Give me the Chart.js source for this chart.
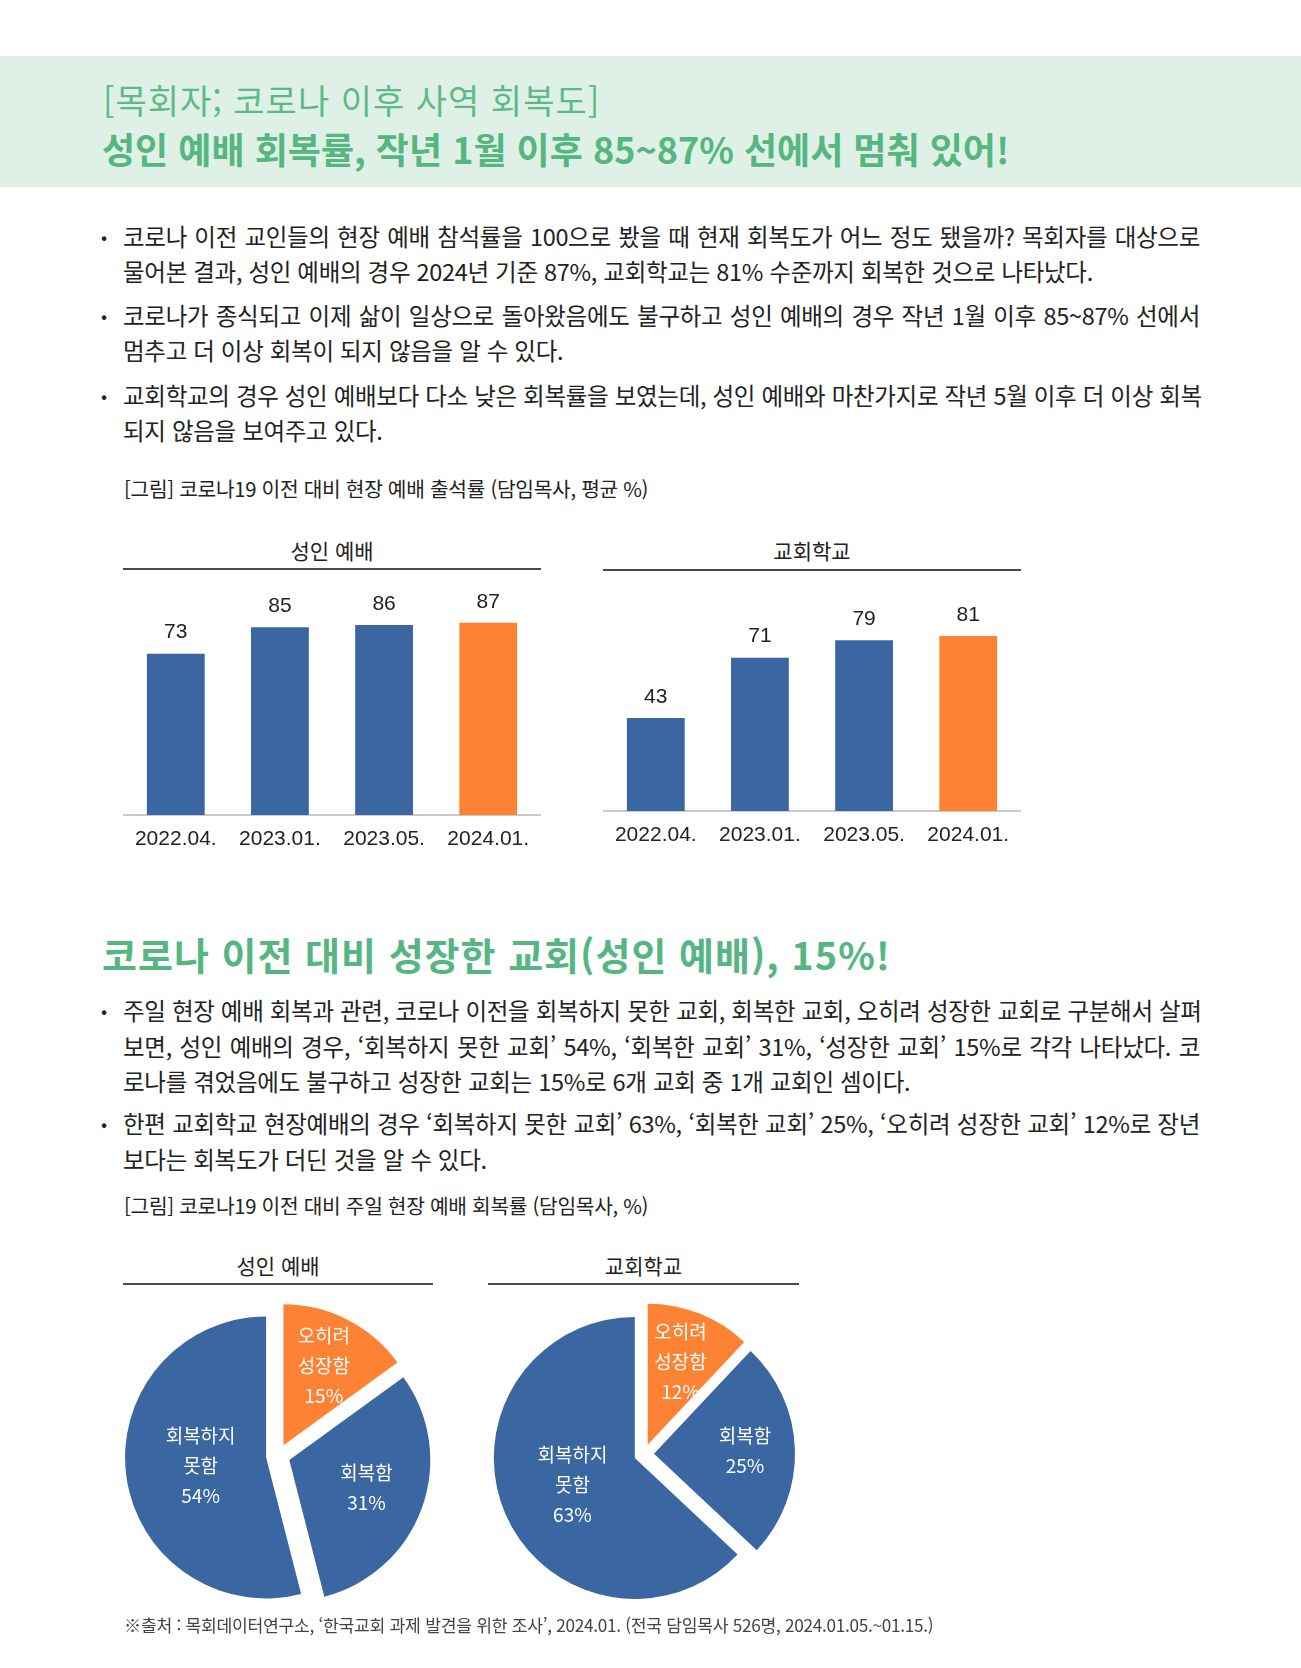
<!DOCTYPE html>
<html lang="ko">
<head>
<meta charset="utf-8">
<script src="https://cdn.jsdelivr.net/npm/chart.js@4.4.0/dist/chart.umd.min.js"></script>
<style>
  body { margin: 0; width: 1301px; height: 1668px; position: relative; overflow: hidden; background: #fff;
         font-family: "Noto Sans CJK KR", "Noto Sans", sans-serif; color: #222; }
  .abs { position: absolute; white-space: nowrap; }
  .band { left: 0; top: 56px; width: 1301px; height: 131px; background: #dff1e6; }
  .t1 { left: 103px; top: 79px; font-size: 34px; line-height: 42px; color: #5dba88; letter-spacing: 1px; }
  .t2 { left: 102px; top: 126px; font-size: 36px; line-height: 44px; color: #55b681; font-weight: bold; letter-spacing: 0px; }
  .t3 { left: 102px; top: 931px; font-size: 38px; line-height: 46px; color: #55b681; font-weight: bold; letter-spacing: 1px; }
  .ln { left: 123px; font-size: 23.5px; line-height: 35px; color: #222; letter-spacing: -0.3px; }
  .jl { width: 1077px; text-align: justify; text-align-last: justify; }
  .dot { left: 101px; font-size: 18px; line-height: 35px; color: #222; }
  .cap { left: 124px; font-size: 20.3px; line-height: 26px; color: #222; letter-spacing: -0.3px; }
  .head { font-size: 21px; line-height: 26px; color: #222; text-align: center; }
  .rule { height: 2px; background: #4a4a4a; }
  .foot { left: 124px; top: 1612px; font-size: 17.2px; line-height: 26px; color: #444; letter-spacing: -0.3px; }
  canvas { position: absolute; }
</style>
</head>
<body>
<div class="abs band"></div>
<div class="abs t1">[목회자; 코로나 이후 사역 회복도]</div>
<div class="abs t2">성인 예배 회복률, 작년 1월 이후 85~87% 선에서 멈춰 있어!</div>

<div class="abs dot" style="top:219px">•</div>
<div class="abs ln jl" style="top:219px">코로나 이전 교인들의 현장 예배 참석률을 100으로 봤을 때 현재 회복도가 어느 정도 됐을까? 목회자를 대상으로</div>
<div class="abs ln" style="top:254px">물어본 결과, 성인 예배의 경우 2024년 기준 87%, 교회학교는 81% 수준까지 회복한 것으로 나타났다.</div>
<div class="abs dot" style="top:298px">•</div>
<div class="abs ln jl" style="top:298px">코로나가 종식되고 이제 삶이 일상으로 돌아왔음에도 불구하고 성인 예배의 경우 작년 1월 이후 85~87% 선에서</div>
<div class="abs ln" style="top:333px">멈추고 더 이상 회복이 되지 않음을 알 수 있다.</div>
<div class="abs dot" style="top:378px">•</div>
<div class="abs ln jl" style="top:378px">교회학교의 경우 성인 예배보다 다소 낮은 회복률을 보였는데, 성인 예배와 마찬가지로 작년 5월 이후 더 이상 회복</div>
<div class="abs ln" style="top:413px">되지 않음을 보여주고 있다.</div>

<div class="abs cap" style="top:475px">[그림] 코로나19 이전 대비 현장 예배 출석률 (담임목사, 평균 %)</div>

<div class="abs head" style="left:123px; width:418px; top:537px">성인 예배</div>
<div class="abs rule" style="left:123px; width:418px; top:568px"></div>
<div class="abs head" style="left:603px; width:418px; top:537px">교회학교</div>
<div class="abs rule" style="left:603px; width:418px; top:569px"></div>
<canvas id="adultBar" width="418" height="300" style="left:123px; top:570px"></canvas>
<canvas id="schoolBar" width="418" height="300" style="left:603px; top:570px"></canvas>

<div class="abs t3">코로나 이전 대비 성장한 교회(성인 예배), 15%!</div>

<div class="abs dot" style="top:993px">•</div>
<div class="abs ln jl" style="top:993px">주일 현장 예배 회복과 관련, 코로나 이전을 회복하지 못한 교회, 회복한 교회, 오히려 성장한 교회로 구분해서 살펴</div>
<div class="abs ln jl" style="top:1029px">보면, 성인 예배의 경우, ‘회복하지 못한 교회’ 54%, ‘회복한 교회’ 31%, ‘성장한 교회’ 15%로 각각 나타났다. 코</div>
<div class="abs ln" style="top:1064px">로나를 겪었음에도 불구하고 성장한 교회는 15%로 6개 교회 중 1개 교회인 셈이다.</div>
<div class="abs dot" style="top:1106px">•</div>
<div class="abs ln jl" style="top:1106px">한편 교회학교 현장예배의 경우 ‘회복하지 못한 교회’ 63%, ‘회복한 교회’ 25%, ‘오히려 성장한 교회’ 12%로 장년</div>
<div class="abs ln" style="top:1142px">보다는 회복도가 더딘 것을 알 수 있다.</div>

<div class="abs cap" style="top:1192px">[그림] 코로나19 이전 대비 주일 현장 예배 회복률 (담임목사, %)</div>

<div class="abs head" style="left:123px; width:310px; top:1252px">성인 예배</div>
<div class="abs rule" style="left:123px; width:310px; top:1283px"></div>
<div class="abs head" style="left:488px; width:311px; top:1252px">교회학교</div>
<div class="abs rule" style="left:488px; width:311px; top:1283px"></div>
<canvas id="adultPie" width="330" height="330" style="left:113px; top:1291px"></canvas>
<canvas id="schoolPie" width="330" height="330" style="left:479px; top:1289px"></canvas>

<div class="abs foot">※출처 : 목회데이터연구소, ‘한국교회 과제 발견을 위한 조사’, 2024.01. (전국 담임목사 526명, 2024.01.05.~01.15.)</div>

<script>
// bar charts: 코로나19 이전 대비 현장 예배 출석률
const barCategories = ['2022.04.', '2023.01.', '2023.05.', '2024.01.'];
const adultValues = [73, 85, 86, 87];
const schoolValues = [43, 71, 79, 81];

// pie charts: 주일 현장 예배 회복률
const pieLabels = [['오히려', '성장함'], ['회복함'], ['회복하지', '못함']];
const adultPie = [15, 31, 54];
const schoolPie = [12, 25, 63];

const blue = '#3a66a1';
const orange = '#fe8234';
const barColors = [blue, blue, blue, orange];
const pieColors = [orange, blue, blue];

const numFont = '"Liberation Sans", Arial, sans-serif';

const valueLabels = {
    id: 'valueLabels',
    afterDatasetsDraw(chart) {
        const ctx = chart.ctx;
        const meta = chart.getDatasetMeta(0);
        ctx.save();
        ctx.font = '21px ' + numFont;
        ctx.fillStyle = '#222';
        ctx.textAlign = 'center';
        ctx.textBaseline = 'middle';
        meta.data.forEach((bar, i) => {
            ctx.fillText(chart.data.datasets[0].data[i], bar.x, bar.y - 21);
        });
        ctx.restore();
    }
};

function barChart(id, values, padTop, padBottom) {
    return new Chart(document.getElementById(id), {
        type: 'bar',
        data: {
            labels: barCategories,
            datasets: [{
                data: values,
                backgroundColor: barColors,
                categoryPercentage: 1,
                barPercentage: 0.555
            }]
        },
        options: {
            responsive: false,
            animation: false,
            events: [],
            layout: { padding: { top: padTop, bottom: padBottom, left: 0, right: 0 } },
            plugins: { legend: { display: false }, tooltip: { enabled: false } },
            scales: {
                x: {
                    grid: { display: false, drawTicks: false },
                    border: { color: '#c9c9c9', width: 2 },
                    ticks: { padding: 12, color: '#222', font: { size: 21, family: numFont } }
                },
                y: { display: false, min: 0, max: 100 }
            }
        },
        plugins: [valueLabels]
    });
}

barChart('adultBar', adultValues, 24, 5.8);
barChart('schoolBar', schoolValues, 25, 9.8);

// exploded slices, drawn by the arc element itself but shifted along its mid angle
const explodePie = {
    id: 'explodePie',
    beforeDatasetDraw(chart, args, opts) {
        const ctx = chart.ctx;
        args.meta.data.forEach(arc => {
            const mid = (arc.startAngle + arc.endAngle) / 2;
            ctx.save();
            ctx.translate(Math.cos(mid) * opts.distance, Math.sin(mid) * opts.distance);
            arc.draw(ctx);
            ctx.restore();
        });
        return false;
    },
    afterDatasetsDraw(chart, args, opts) {
        const ctx = chart.ctx;
        const meta = chart.getDatasetMeta(0);
        ctx.save();
        ctx.font = '19px "Noto Sans CJK KR", sans-serif';
        ctx.fillStyle = '#fff';
        ctx.textAlign = 'center';
        ctx.textBaseline = 'middle';
        meta.data.forEach((arc, i) => {
            const mid = (arc.startAngle + arc.endAngle) / 2;
            const r = opts.labelRadius[i];
            const cx = arc.x + Math.cos(mid) * r;
            const cy = arc.y + Math.sin(mid) * r;
            const lines = chart.data.labels[i].concat(chart.data.datasets[0].data[i] + '%');
            lines.forEach((t, k) => {
                ctx.fillText(t, cx, cy + (k - (lines.length - 1) / 2) * 30);
            });
        });
        ctx.restore();
    }
};

function pieChart(id, values, distance, labelRadius) {
    return new Chart(document.getElementById(id), {
        type: 'pie',
        data: {
            labels: pieLabels,
            datasets: [{ data: values, backgroundColor: pieColors, borderWidth: 0 }]
        },
        options: {
            responsive: false,
            animation: false,
            events: [],
            radius: 141,
            layout: { padding: 0 },
            plugins: {
                legend: { display: false },
                tooltip: { enabled: false },
                explodePie: { distance: distance, labelRadius: labelRadius }
            }
        },
        plugins: [explodePie]
    });
}

pieChart('adultPie', adultPie, 12, [101, 94, 78]);
pieChart('schoolPie', schoolPie, 10, [99, 101, 78]);
</script>
</body>
</html>
